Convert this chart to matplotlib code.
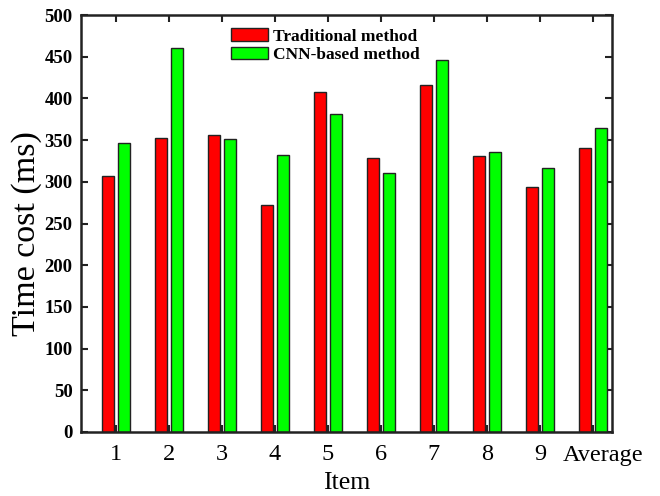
import numpy as np
import matplotlib
matplotlib.use("Agg")
import matplotlib.pyplot as plt
import matplotlib.transforms as mtransforms

categories = ["1", "2", "3", "4", "5", "6", "7", "8", "9", "Average"]
traditional = [307, 352, 356, 272, 408, 328, 416, 331, 294, 340]
cnn_based = [347, 461, 351, 332, 381, 310, 446, 336, 317, 365]
yticks = [0, 50, 100, 150, 200, 250, 300, 350, 400, 450, 500]

plt.rcParams['font.family'] = ['Liberation Serif', 'DejaVu Serif']

fig = plt.figure(figsize=(6.6, 4.96), dpi=100)
ax = fig.add_axes([81/660, 1-432/496, (612-81)/660, (432-15)/496])

x = np.arange(len(categories))
w = 0.24
ax.bar(x - 0.15, traditional, w, color='#ff0000', edgecolor='#222222', linewidth=1.0,
       label='Traditional method', zorder=2)
ax.bar(x + 0.15, cnn_based, w, color='#00ff00', edgecolor='#222222', linewidth=1.0,
       label='CNN-based method', zorder=2)

ax.set_xlim(-0.66, 9.36)
ax.set_ylim(0, 500)
ax.set_yticks(yticks)
ax.set_yticklabels([str(v) for v in yticks], fontweight='bold', fontsize=13.5)
ax.set_xticks(x)
ax.set_xticklabels(categories, fontsize=17.5)

ax.tick_params(axis='both', direction='in', top=True, right=True, width=1.5,
               length=5, color='#222222')
ax.tick_params(axis='x', pad=9)
ax.tick_params(axis='y', pad=6)
for s in ax.spines.values():
    s.set_linewidth(1.8)
    s.set_color('#222222')
    s.set_zorder(3)

# the "Average" label sits a little right of its group in the reference
lbl = ax.get_xticklabels()[-1]
lbl.set_transform(lbl.get_transform() + mtransforms.ScaledTranslation(10/100, 0, fig.dpi_scale_trans))

ax.set_xlabel('Item', fontsize=18.5, labelpad=5)
ax.set_ylabel('Time cost (ms)', fontsize=24.5)
ax.yaxis.set_label_coords(-0.073, 0.475)

leg = ax.legend(loc='upper left', bbox_to_anchor=(0.27, 0.985), frameon=False,
                prop={'weight': 'bold', 'size': 12.5}, handlelength=2.1,
                handleheight=0.75, labelspacing=0.12, handletextpad=0.3,
                borderaxespad=0)

fig.savefig('out.png', dpi=100)
